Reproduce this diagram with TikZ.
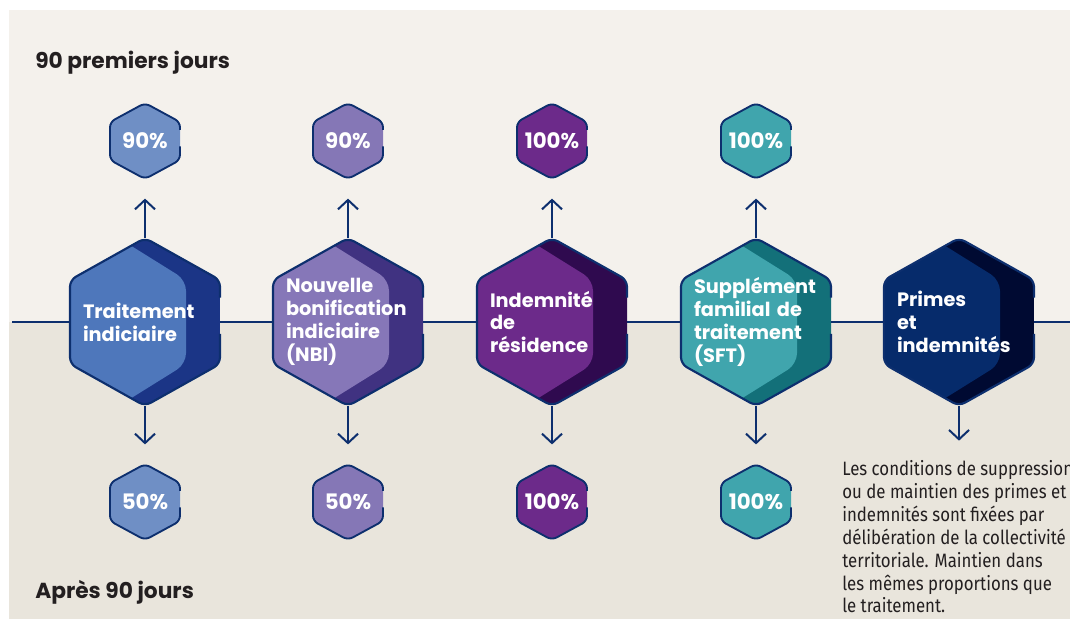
\documentclass[tikz,border=0pt]{standalone}
\usepackage{fontspec}
\setmainfont{Poppins}
\newfontfamily\etroite[FakeStretch=0.87]{Fira Sans}
\usetikzlibrary{arrows.meta,positioning}
\definecolor{encre}{HTML}{231F20}
\definecolor{marine}{HTML}{0D2F6E}
\definecolor{fondhaut}{HTML}{F4F1EC}
\definecolor{fondbas}{HTML}{E9E5DC}
\definecolor{bleuclair}{HTML}{4E77BB}
\definecolor{bleufonce}{HTML}{1B3586}
\definecolor{bleupetit}{HTML}{6F8FC5}
\definecolor{mauveclair}{HTML}{8677B8}
\definecolor{mauvefonce}{HTML}{403281}
\definecolor{mauvepetit}{HTML}{8577B6}
\definecolor{violetclair}{HTML}{6C2A8A}
\definecolor{violetfonce}{HTML}{2F0A4F}
\definecolor{tealclair}{HTML}{40A5AD}
\definecolor{tealfonce}{HTML}{137079}
\definecolor{navyclair}{HTML}{062B6B}
\definecolor{navyfonce}{HTML}{000A32}
\tikzset{
  contour/.style={draw=marine, line width=1.6pt, rounded corners=5pt},
  ligne/.style={draw=marine, line width=1.5pt},
  fleche/.style={-{Straight Barb[length=7pt,width=15pt]}, draw=marine, line width=1.5pt,
    shorten >=14.5pt},
  grandnoeud/.style={minimum width=112.5pt, minimum height=126pt, inner sep=0pt,
    align=left, text width=93pt, text=white, font=\bfseries\fontsize{14.5}{17.2}\selectfont},
  petitnoeud/.style={minimum width=52.5pt, minimum height=57pt, inner sep=0pt,
    text=white, font=\bfseries\fontsize{16}{18}\selectfont},
  titre/.style={anchor=base west, inner sep=0pt, text=encre,
    font=\bfseries\fontsize{16.3}{19}\selectfont},
  note/.style={anchor=north west, align=left, inner sep=0pt, text=encre,
    font=\etroite\fontsize{14.5}{17.2}\selectfont}
}
% open hexagon outline (gap on the right edge), and closed hexagon
\newcommand{\hexbord}[5]{%
  \path[#5] (#1+#3,#2+#4*0.14) -- (#1+#3,#2+#4/2) -- (#1,#2+#4) -- (#1-#3,#2+#4/2)
    -- (#1-#3,#2-#4/2) -- (#1,#2-#4) -- (#1+#3,#2-#4/2) -- (#1+#3,#2-#4*0.29);
}
\newcommand{\hexplein}[5]{%
  \path[#5] (#1,#2-#4) -- (#1+#3,#2-#4/2) -- (#1+#3,#2+#4/2) -- (#1,#2+#4)
    -- (#1-#3,#2+#4/2) -- (#1-#3,#2-#4/2) -- cycle;
}
\newcommand{\grandhex}[5]{%
  \begin{scope}
    \hexplein{#2}{322}{75}{84}{clip, rounded corners=5pt}
    \hexplein{#2}{322}{75}{84}{fill=#4}
    \path[fill=#3, rounded corners=8pt] (#2-28,237) -- (#2+41,280) -- (#2+41,364)
      -- (#2-28,407) -- (#2-80,407) -- (#2-80,237) -- cycle;
  \end{scope}
  \hexbord{#2}{322}{75}{84}{contour}
  \node[grandnoeud] (#1) at (#2,322) {#5};
}
\newcommand{\petithex}[5]{%
  \hexplein{#2}{#3}{35}{38}{fill=#4, rounded corners=4pt}
  \hexbord{#2}{#3}{35}{38}{contour, line width=1.4pt, rounded corners=4pt}
  \node[petitnoeud] (#1) at (#2,#3) {#5};
}

\begin{document}
\begin{tikzpicture}[x=0.75pt,y=-0.75pt]
  \useasboundingbox (0,0) rectangle (1070,619);
  \clip (0,0) rectangle (1070,619);
  \fill[white] (0,0) rectangle (1070,619);
  \fill[fondhaut] (9,10) rectangle (1070,322);
  \fill[fondbas] (9,322) rectangle (1070,619);

  \node[titre] (titreHaut) at (35,68) {90 premiers jours};
  \node[titre] (titreBas) at (35,598) {Après 90 jours};

  % main row
  \grandhex{traitement}{145}{bleuclair}{bleufonce}{Traitement\\indiciaire}
  \grandhex{nbi}{348}{mauveclair}{mauvefonce}{Nouvelle\\bonification\\indiciaire\\(NBI)}
  \grandhex{residence}{552}{violetclair}{violetfonce}{Indemnité\\de\\résidence}
  \grandhex{sft}{756}{tealclair}{tealfonce}{Supplément\\familial de\\traitement\\(SFT)}
  \grandhex{primes}{959}{navyclair}{navyfonce}{Primes\\et\\indemnités}

  \coordinate (gauche) at (12,322);
  \coordinate (droite) at (1070,322);
  \draw[ligne] (gauche) -- (traitement.west);
  \draw[ligne] (traitement.east) -- (nbi.west);
  \draw[ligne] (nbi.east) -- (residence.west);
  \draw[ligne] (residence.east) -- (sft.west);
  \draw[ligne] (sft.east) -- (primes.west);
  \draw[ligne] (primes.east) -- (droite);

  % percentages, first 90 days and after
  \petithex{traitementHaut}{145}{141}{bleupetit}{90\%}
  \petithex{nbiHaut}{348}{141}{mauvepetit}{90\%}
  \petithex{residenceHaut}{552}{141}{violetclair}{100\%}
  \petithex{sftHaut}{756}{141}{tealclair}{100\%}
  \petithex{traitementBas}{145}{502}{bleupetit}{50\%}
  \petithex{nbiBas}{348}{502}{mauvepetit}{50\%}
  \petithex{residenceBas}{552}{502}{violetclair}{100\%}
  \petithex{sftBas}{756}{502}{tealclair}{100\%}

  \foreach \h in {traitement,nbi,residence,sft} {
    \draw[fleche] (\h.north) -- (\h Haut.south);
    \draw[fleche] (\h.south) -- (\h Bas.north);
  }

  \node[note] (note) at (842,460) {Les conditions de suppression\\ou de maintien des primes et\\indemnités sont fixées par\\délibération de la collectivité\\territoriale. Maintien dans\\les mêmes proportions que\\le traitement.};
  \draw[fleche] (primes.south) -- (primes.south |- note.north);

\end{tikzpicture}
\end{document}
